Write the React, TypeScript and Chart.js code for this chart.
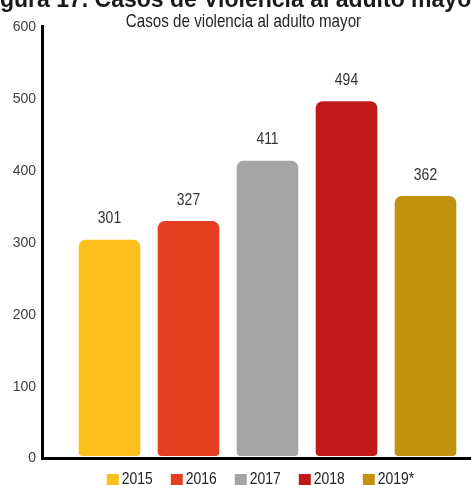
import React, { useEffect, useRef } from "react";
import { Chart, registerables } from "chart.js";

Chart.register(...registerables);

const categories = ["2015", "2016", "2017", "2018", "2019*"];
const values = [301, 327, 411, 494, 362];
const barColors = ["#FCBF1B", "#E63E20", "#A5A5A5", "#C0191A", "#C1910F"];
const yMin = 0;
const yMax = 600;
const yStep = 100;
const titleText = "Figura 17. Casos de Violencia al adulto mayor";
const subtitleText = "Casos de violencia al adulto mayor";

const SANS = '"Liberation Sans", Arial, sans-serif';
const NARROW_X = 0.82;

function narrowText(
  ctx: CanvasRenderingContext2D,
  text: string,
  x: number,
  y: number,
  align: CanvasTextAlign
) {
  ctx.save();
  ctx.translate(x, y);
  ctx.scale(NARROW_X, 1);
  ctx.textAlign = align;
  ctx.fillText(text, 0, 0);
  ctx.restore();
}

const decorPlugin = {
  id: "decor",
  afterDraw(chart: any) {
    const ctx = chart.ctx as CanvasRenderingContext2D;
    const area = chart.chartArea;
    const yScale = chart.scales.y;
    const zeroY = yScale.getPixelForValue(0);
    ctx.save();

    // Axis lines
    ctx.strokeStyle = "#000000";
    ctx.lineWidth = 3;
    ctx.beginPath();
    ctx.moveTo(area.left - 27.5, area.top);
    ctx.lineTo(area.left - 27.5, zeroY + 4);
    ctx.stroke();
    ctx.beginPath();
    ctx.moveTo(area.left - 29, zeroY + 2.5);
    ctx.lineTo(chart.width, zeroY + 2.5);
    ctx.stroke();

    // Value labels
    const meta = chart.getDatasetMeta(0);
    ctx.fillStyle = "#333333";
    ctx.font = `17px ${SANS}`;
    ctx.textBaseline = "middle";
    meta.data.forEach((bar: any, i: number) => {
      narrowText(ctx, String(values[i]), bar.x, bar.y - 21, "center");
    });

    // Cut-off main title
    ctx.fillStyle = "#1a1a1a";
    ctx.font = `bold 23px ${SANS}`;
    ctx.textAlign = "left";
    ctx.textBaseline = "alphabetic";
    ctx.fillText(titleText, -20.5, 7);

    // Subtitle
    ctx.fillStyle = "#262626";
    ctx.font = `18.5px ${SANS}`;
    ctx.textBaseline = "middle";
    narrowText(ctx, subtitleText, 243.5, 21.5, "center");

    // Legend
    ctx.font = `17px ${SANS}`;
    const box = 12;
    const gapBoxText = 3;
    const gapItems = 18;
    const widths = categories.map((c) => ctx.measureText(c).width * NARROW_X);
    let total = 0;
    widths.forEach((w, i) => {
      total += box + gapBoxText + w + (i < widths.length - 1 ? gapItems : 0);
    });
    let x = 260.5 - total / 2;
    const legendY = 479;
    ctx.textBaseline = "middle";
    categories.forEach((c, i) => {
      ctx.fillStyle = barColors[i];
      ctx.fillRect(x, legendY - 5, box, box);
      ctx.fillStyle = "#262626";
      narrowText(ctx, c, x + box + gapBoxText, legendY, "left");
      x += box + gapBoxText + widths[i] + gapItems;
    });

    ctx.restore();
  },
};

export default function App() {
  const canvasRef = useRef<HTMLCanvasElement | null>(null);

  useEffect(() => {
    if (!canvasRef.current) return;
    const chart = new Chart(canvasRef.current, {
      type: "bar",
      data: {
        labels: categories,
        datasets: [
          {
            data: values,
            backgroundColor: barColors,
            borderWidth: 0,
            borderSkipped: false,
            borderRadius: { topLeft: 7, topRight: 7, bottomLeft: 4, bottomRight: 4 },
            categoryPercentage: 1,
            barPercentage: 0.78,
          },
        ],
      },
      options: {
        responsive: false,
        animation: false,
        layout: { padding: { top: 25, bottom: 29, left: 0, right: 6 } },
        plugins: {
          legend: { display: false },
          title: { display: false },
          tooltip: { enabled: false },
        },
        scales: {
          x: { display: false },
          y: {
            min: yMin,
            max: yMax,
            grid: { display: false, drawTicks: true, tickLength: 34 },
            border: { display: false },
            afterFit: (scale: any) => {
              scale.width = 70;
            },
            ticks: {
              stepSize: yStep,
              padding: 0,
              labelOffset: 2.5,
              color: "#404040",
              font: { family: SANS, size: 14 },
            },
          },
        },
      },
      plugins: [decorPlugin],
    });
    return () => chart.destroy();
  }, []);

  return (
    <div style={{ position: "fixed", left: 0, top: 0, width: 471, height: 485, background: "#ffffff" }}>
      <canvas ref={canvasRef} width={471} height={485} style={{ display: "block" }} />
    </div>
  );
}
